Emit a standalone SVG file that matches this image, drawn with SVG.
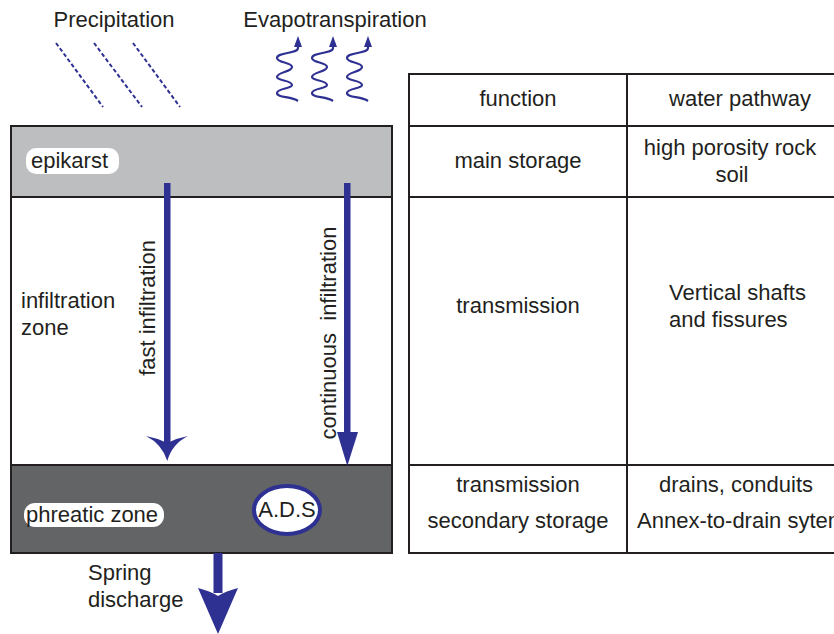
<svg xmlns="http://www.w3.org/2000/svg" width="834" height="634" viewBox="0 0 834 634">
<style>
text{font-family:"Liberation Sans",Arial,sans-serif;font-size:22px;fill:#231f20}
.c{text-anchor:middle}
.ln{stroke:#231f20;stroke-width:2;fill:none}
.blue{fill:#2e3192}
</style>
<defs>
<path id="wave" d="M13,44 V48 C13,54 -8,52 -8,58 C-8,63 7,62 7,67 C7,72 -8,72 -8,77 C-8,81 7,80 7,85 C7,89 -8,88 -8,93 C-8,98 6,96 13,101" stroke="#2e3192" stroke-width="2.2" fill="none"/>
<path id="tip" d="M9,47 L13,36 L17,47 Z" fill="#2e3192"/>
</defs>

<g id="precipitation">
<text class="c" x="114" y="27">Precipitation</text>
<g stroke="#2e3192" stroke-width="2" stroke-dasharray="4,2.5">
<line x1="56" y1="43" x2="103" y2="107"/>
<line x1="94" y1="43" x2="142" y2="107"/>
<line x1="133" y1="43" x2="180" y2="107"/>
</g>
</g>

<g id="evapotranspiration">
<text class="c" x="335" y="27">Evapotranspiration</text>
<g transform="translate(285,0)"><use href="#wave"/><use href="#tip"/></g>
<g transform="translate(320,0)"><use href="#wave"/><use href="#tip"/></g>
<g transform="translate(355,0)"><use href="#wave"/><use href="#tip"/></g>
</g>

<g id="epikarst">
<rect x="11" y="126" width="381" height="71" fill="#bcbec0"/>
<rect x="26" y="148" width="93" height="26" rx="10" fill="#fff"/>
<text x="31" y="168">epikarst</text>
</g>

<g id="infiltration-zone">
<rect x="11" y="197" width="381" height="268" fill="#fff"/>
<text x="21" y="308">infiltration</text>
<text x="21" y="335">zone</text>
</g>

<g id="phreatic-zone">
<rect x="11" y="465" width="381" height="88" fill="#636466"/>
<rect x="24" y="503" width="140" height="24" rx="11" fill="#fff"/>
<text x="26" y="522">phreatic zone</text>
</g>

<g id="ads">
<ellipse cx="287" cy="510" rx="33" ry="24" fill="#fff" stroke="#2e3192" stroke-width="4"/>
<text class="c" x="287" y="517">A.D.S</text>
</g>

<g id="box-borders">
<rect x="11" y="126" width="381" height="427" class="ln"/>
<line x1="11" y1="197" x2="392" y2="197" class="ln"/>
<line x1="11" y1="465" x2="392" y2="465" class="ln"/>
</g>

<g id="connectors">
<g id="fast-infiltration">
<rect x="164" y="183" width="6.5" height="262" class="blue"/>
<path d="M146,436 Q162,444 167.3,461 Q172,444 188,436 Q177,438 167.3,443 Q157,438 146,436 Z" class="blue"/>
<text class="c" transform="translate(155,308) rotate(-90)" x="0" y="0">fast infiltration</text>
</g>
<g id="continuous-infiltration">
<rect x="344" y="183" width="6.5" height="252" class="blue"/>
<path d="M337,432 L358,432 L347.3,466 Z" class="blue"/>
<text class="c" transform="translate(336,333) rotate(-90)" x="0" y="0" xml:space="preserve">continuous  infiltration</text>
</g>
<g id="spring-discharge">
<rect x="213.5" y="553" width="9" height="40" class="blue"/>
<path d="M198,588 Q210,591 218,596 Q226,591 238,588 L218,634 Z" class="blue"/>
<text x="88" y="580">Spring</text>
<text x="88" y="607">discharge</text>
</g>
</g>

<g id="table">
<path d="M845,74 H409 V553 H845 M409,126 H845 M409,197 H845 M409,465 H845 M627,74 V553" class="ln"/>
<g id="header-row">
<text class="c" x="518" y="106">function</text>
<text class="c" x="740" y="106">water pathway</text>
</g>
<g id="epikarst-row">
<text class="c" x="518" y="168">main storage</text>
<text class="c" x="730" y="155">high porosity rock</text>
<text class="c" x="732" y="182">soil</text>
</g>
<g id="infiltration-row">
<text class="c" x="518" y="313">transmission</text>
<text x="669" y="300">Vertical shafts</text>
<text x="669" y="327">and fissures</text>
</g>
<g id="phreatic-row">
<text class="c" x="518" y="492">transmission</text>
<text class="c" x="518" y="528">secondary storage</text>
<text class="c" x="736" y="492">drains, conduits</text>
<text x="637" y="528">Annex-to-drain sytem</text>
</g>
</g>
</svg>
